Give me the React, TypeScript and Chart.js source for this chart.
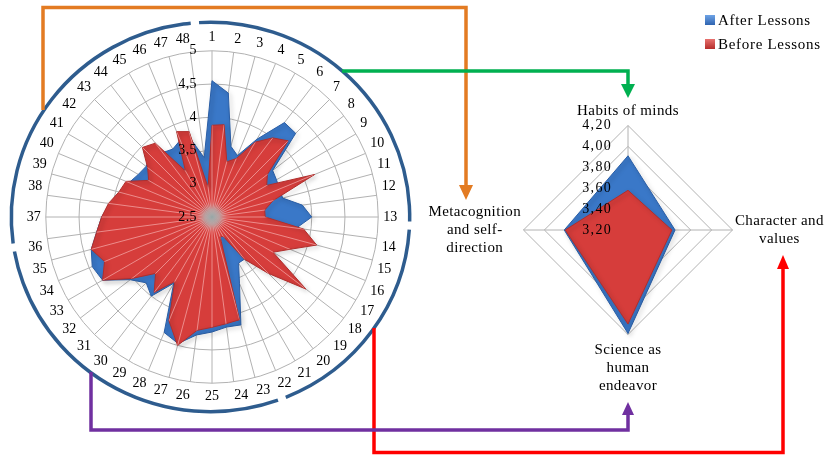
import React, { useEffect, useRef } from "react";
import { Chart, registerables } from "chart.js";

Chart.register(...registerables);

const W = 829;
const H = 456;
const SERIF = "'Times New Roman', 'Liberation Serif', Times, serif";

// ---------- big radar: 48 items ----------
const itemLabels = [
  "1", "2", "3", "4", "5", "6", "7", "8", "9", "10", "11", "12",
  "13", "14", "15", "16", "17", "18", "19", "20", "21", "22", "23", "24",
  "25", "26", "27", "28", "29", "30", "31", "32", "33", "34", "35", "36",
  "37", "38", "39", "40", "41", "42", "43", "44", "45", "46", "47", "48",
];
const afterLessons = [
  4.55, 4.38, 3.6, 3.5, 3.85, 4.29, 4.28, 3.65, 3.62, 3.6, 3.6, 3.87,
  4.0, 3.78, 4.0, 3.7, 3.5, 4.1, 3.6, 3.3, 3.3, 3.58, 4.18, 4.17,
  4.23, 4.29, 4.47, 4.38, 3.65, 4.0, 3.9, 4.05, 4.4, 4.45, 4.38, 4.25,
  4.16, 4.05, 3.95, 3.85, 3.78, 3.75, 3.8, 3.72, 3.68, 3.75, 3.7, 3.4,
];
const beforeLessons = [
  3.88, 3.9, 3.36, 3.45, 3.8, 4.0, 4.12, 3.55, 3.45, 4.17, 3.45, 3.3,
  3.3, 3.89, 4.13, 3.77, 3.56, 4.28, 3.7, 3.3, 2.84, 2.82, 4.1, 4.12,
  4.16, 4.22, 4.5, 4.19, 3.62, 3.93, 3.7, 4.02, 4.4, 4.25, 4.38, 4.25,
  4.16, 4.07, 3.95, 3.9, 3.6, 3.72, 3.98, 3.9, 3.3, 3.89, 3.83, 2.95,
];
const itemTickLabels = ["2.5", "3", "3,5", "4", "4,5", "5"];

// ---------- small radar: 4 aspects ----------
const aspectLabels = [
  ["Habits of minds"],
  ["Character and", "values"],
  ["Science as", "human", "endeavor"],
  ["Metacognition", "and self-", "direction"],
];
const aspectAfter = [3.91, 3.65, 4.19, 3.81];
const aspectBefore = [3.58, 3.62, 4.1, 3.8];
const aspectTickLabels = ["3,20", "3,40", "3,60", "3,80", "4,00", "4,20"];

const seriesNames = ["After Lessons", "Before Lessons"];

const BLUE = "#3a78c8";
const BLUE_EDGE = "#2a5ea6";
const RED = "#d63d3b";
const RED_EDGE = "#b02e2c";
const GRID = "#b2b2b2";

function fitRadar(chart: any, cx: number, cy: number, R: number) {
  for (let k = 0; k < 3; k++) {
    const sc = chart.scales.r;
    const a = chart.chartArea;
    const S = Math.min(a.right - a.left, a.bottom - a.top);
    const ov = S / 2 - sc.drawingArea;
    const dx = sc.xCenter - (a.left + a.right) / 2;
    const dy = sc.yCenter - (a.top + a.bottom) / 2;
    const S2 = 2 * Math.round(R + ov);
    const left = Math.round(cx - dx - S2 / 2);
    const top = Math.round(cy - dy - S2 / 2);
    chart.options.layout.padding = { left, top, right: W - left - S2, bottom: H - top - S2 };
    chart.update();
  }
}

function drawSideTicks(chart: any, gap: number, size: number, spacing: number) {
  const sc = chart.scales.r;
  const ctx = chart.ctx;
  ctx.save();
  ctx.font = `${size}px ${SERIF}`;
  try {
    (ctx as any).letterSpacing = `${spacing}px`;
  } catch (e) {}
  ctx.fillStyle = "#000";
  ctx.textAlign = "right";
  ctx.textBaseline = "middle";
  sc.ticks.forEach((t: any) => {
    const d = sc.getDistanceFromCenterForValue(t.value);
    ctx.fillText(String(t.label), sc.xCenter - gap, sc.yCenter - d);
  });
  ctx.restore();
}

function shadowOn(chart: any) {
  const c = chart.ctx;
  c.save();
  c.shadowColor = "rgba(0,0,0,0.35)";
  c.shadowBlur = 4;
  c.shadowOffsetX = 2;
  c.shadowOffsetY = 2;
}

function arrow(ctx: CanvasRenderingContext2D, pts: number[][], color: string, lw: number, headLen: number, headHalf: number) {
  const n = pts.length;
  const [x1, y1] = pts[n - 2];
  const [x2, y2] = pts[n - 1];
  const ang = Math.atan2(y2 - y1, x2 - x1);
  const bx = x2 - headLen * Math.cos(ang);
  const by = y2 - headLen * Math.sin(ang);
  ctx.save();
  ctx.strokeStyle = color;
  ctx.fillStyle = color;
  ctx.lineWidth = lw;
  ctx.lineJoin = "miter";
  ctx.beginPath();
  for (let i = 0; i < n - 1; i++) {
    if (i === 0) ctx.moveTo(pts[i][0], pts[i][1]);
    else ctx.lineTo(pts[i][0], pts[i][1]);
  }
  ctx.lineTo(bx, by);
  ctx.stroke();
  ctx.beginPath();
  ctx.moveTo(x2, y2);
  ctx.lineTo(bx + headHalf * Math.sin(ang), by - headHalf * Math.cos(ang));
  ctx.lineTo(bx - headHalf * Math.sin(ang), by + headHalf * Math.cos(ang));
  ctx.closePath();
  ctx.fill();
  ctx.restore();
}

const bigDecor = {
  id: "bigDecor",
  beforeDraw(chart: any) {
    const ctx = chart.ctx;
    ctx.save();
    ctx.fillStyle = "#fff";
    ctx.fillRect(0, 0, W, H);
    ctx.restore();
  },
  beforeDatasetDraw(chart: any) {
    shadowOn(chart);
  },
  afterDatasetDraw(chart: any) {
    chart.ctx.restore();
  },
  afterDatasetsDraw(chart: any) {
    const sc = chart.scales.r;
    const ctx = chart.ctx;
    const meta = chart.getDatasetMeta(0);
    ctx.save();
    ctx.beginPath();
    meta.data.forEach((p: any, i: number) => (i ? ctx.lineTo(p.x, p.y) : ctx.moveTo(p.x, p.y)));
    ctx.closePath();
    ctx.clip();
    ctx.strokeStyle = "rgba(255,205,205,0.55)";
    ctx.lineWidth = 1;
    for (let i = 0; i < itemLabels.length; i++) {
      const p = sc.getPointPosition(i, sc.drawingArea);
      ctx.beginPath();
      ctx.moveTo(sc.xCenter, sc.yCenter);
      ctx.lineTo(p.x, p.y);
      ctx.stroke();
    }
    const g = ctx.createRadialGradient(sc.xCenter, sc.yCenter, 0, sc.xCenter, sc.yCenter, 15);
    g.addColorStop(0, "rgba(150,165,165,1)");
    g.addColorStop(0.5, "rgba(170,170,170,0.7)");
    g.addColorStop(1, "rgba(200,150,150,0)");
    ctx.fillStyle = g;
    ctx.fillRect(sc.xCenter - 15, sc.yCenter - 15, 30, 30);
    ctx.restore();
    drawSideTicks(chart, 15, 14, 0.4);
  },
  afterDraw(chart: any) {
    const sc = chart.scales.r;
    const ctx = chart.ctx as CanvasRenderingContext2D;
    // outer ring with gaps
    const cx = sc.xCenter - 1.5;
    const cy = sc.yCenter;
    const rx = sc.drawingArea + 33;
    const ry = sc.drawingArea + 28.5;
    const gaps = [92.5, 159, 261, 355.5];
    const hw = 1.2;
    ctx.save();
    ctx.strokeStyle = "#2e5c8e";
    ctx.lineWidth = 3.5;
    for (let i = 0; i < gaps.length; i++) {
      const s = gaps[i] + hw;
      let e = gaps[(i + 1) % gaps.length] - hw;
      if (e < s) e += 360;
      ctx.beginPath();
      ctx.ellipse(cx, cy, rx, ry, 0, ((s - 90) * Math.PI) / 180, ((e - 90) * Math.PI) / 180);
      ctx.stroke();
    }
    ctx.restore();
    // connector arrows
    arrow(ctx, [[43, 110], [43, 7.5], [466, 7.5], [466, 200]], "#e37b22", 3.5, 15, 7);
    arrow(ctx, [[342, 71], [628, 71], [628, 98]], "#00b050", 3.5, 14, 7);
    arrow(ctx, [[374, 328], [374, 452.5], [783, 452.5], [783, 255]], "#ff0000", 3.5, 14, 6);
    arrow(ctx, [[91, 372], [91, 430], [628, 430], [628, 402]], "#7030a0", 3.5, 13, 6);
  },
};

const smallDecor = {
  id: "smallDecor",
  beforeDatasetDraw(chart: any) {
    shadowOn(chart);
  },
  afterDatasetDraw(chart: any) {
    chart.ctx.restore();
  },
  afterDatasetsDraw(chart: any) {
    drawSideTicks(chart, 16, 14, 1.3);
  },
  afterDraw(chart: any) {
    const sc = chart.scales.r;
    const ctx = chart.ctx;
    const lh = 18;
    ctx.save();
    ctx.font = `15px ${SERIF}`;
    try {
      (ctx as any).letterSpacing = "0.4px";
    } catch (e) {}
    ctx.fillStyle = "#000";
    ctx.textAlign = "center";
    ctx.textBaseline = "middle";
    sc._pointLabelItems.forEach((it: any, i: number) => {
      const lines = sc._pointLabels[i];
      const arr = Array.isArray(lines) ? lines : [lines];
      const x = (it.left + it.right) / 2;
      arr.forEach((ln: string, j: number) => {
        ctx.fillText(ln, x, it.top + lh * (j + 0.5) + (i === 2 ? 2 : 0));
      });
    });
    ctx.restore();
  },
};

function bigConfig(): any {
  return {
    type: "radar",
    data: {
      labels: itemLabels,
      datasets: [
        { label: seriesNames[1], data: beforeLessons, backgroundColor: RED, borderColor: RED_EDGE, borderWidth: 1, pointRadius: 0, fill: true },
        { label: seriesNames[0], data: afterLessons, backgroundColor: BLUE, borderColor: BLUE_EDGE, borderWidth: 1, pointRadius: 0, fill: true },
      ],
    },
    options: {
      responsive: false,
      animation: false,
      layout: { padding: { left: 24, top: 29, right: 429, bottom: 51 } },
      elements: { line: { tension: 0 } },
      plugins: { legend: { display: false }, tooltip: { enabled: false } },
      scales: {
        r: {
          min: 2.5,
          max: 5,
          ticks: { stepSize: 0.5, display: false, callback: (_v: any, i: number) => itemTickLabels[i] },
          grid: { circular: true, color: GRID, lineWidth: 1 },
          angleLines: { color: GRID, lineWidth: 1 },
          pointLabels: { font: { family: SERIF, size: 14 }, color: "#000", padding: 5 },
        },
      },
    },
    plugins: [bigDecor],
  };
}

function smallConfig(): any {
  return {
    type: "radar",
    data: {
      labels: aspectLabels,
      datasets: [
        { label: seriesNames[1], data: aspectBefore, backgroundColor: RED, borderColor: RED_EDGE, borderWidth: 1, pointRadius: 0, fill: true },
        { label: seriesNames[0], data: aspectAfter, backgroundColor: BLUE, borderColor: BLUE_EDGE, borderWidth: 1, pointRadius: 0, fill: true },
      ],
    },
    options: {
      responsive: false,
      animation: false,
      layout: { padding: { left: 423, top: 25, right: -4, bottom: 21 } },
      elements: { line: { tension: 0 } },
      plugins: { legend: { display: false }, tooltip: { enabled: false } },
      scales: {
        r: {
          min: 3.2,
          max: 4.2,
          ticks: { stepSize: 0.2, display: false, callback: (_v: any, i: number) => aspectTickLabels[i] },
          grid: { circular: false, color: GRID, lineWidth: 1 },
          angleLines: { color: GRID, lineWidth: 1 },
          pointLabels: { font: { family: SERIF, size: 15, lineHeight: 1.2 }, color: "rgba(0,0,0,0)", padding: 5 },
        },
      },
    },
    plugins: [smallDecor],
  };
}

const legendSwatch = [
  "linear-gradient(#6ea3e6, #2f64b0)",
  "linear-gradient(#e8726f, #b52d2b)",
];

export default function App() {
  const bigRef = useRef<HTMLCanvasElement>(null);
  const smallRef = useRef<HTMLCanvasElement>(null);

  useEffect(() => {
    const big = new Chart(bigRef.current as HTMLCanvasElement, bigConfig());
    fitRadar(big, 212, 217, 166);
    const small = new Chart(smallRef.current as HTMLCanvasElement, smallConfig());
    fitRadar(small, 628, 230, 105);
    return () => {
      big.destroy();
      small.destroy();
    };
  }, []);

  const canvasStyle: React.CSSProperties = { position: "absolute", left: 0, top: 0, width: W, height: H };

  return (
    <div style={{ position: "relative", width: W, height: H, overflow: "hidden", background: "#fff" }}>
      <style>{"body{margin:0;overflow:hidden;background:#fff}"}</style>
      <canvas ref={bigRef} width={W} height={H} style={canvasStyle} />
      <canvas ref={smallRef} width={W} height={H} style={canvasStyle} />
      <div
        style={{
          position: "absolute",
          left: 705,
          top: 8,
          fontFamily: SERIF,
          fontSize: 15,
          lineHeight: "24px",
          letterSpacing: 0.7,
          color: "#000",
        }}
      >
        {seriesNames.map((n, i) => (
          <div key={n} style={{ display: "flex", alignItems: "center", whiteSpace: "nowrap" }}>
            <span
              style={{
                display: "inline-block",
                width: 10,
                height: 10,
                marginRight: 3,
                background: legendSwatch[i],
              }}
            />
            {n}
          </div>
        ))}
      </div>
    </div>
  );
}
